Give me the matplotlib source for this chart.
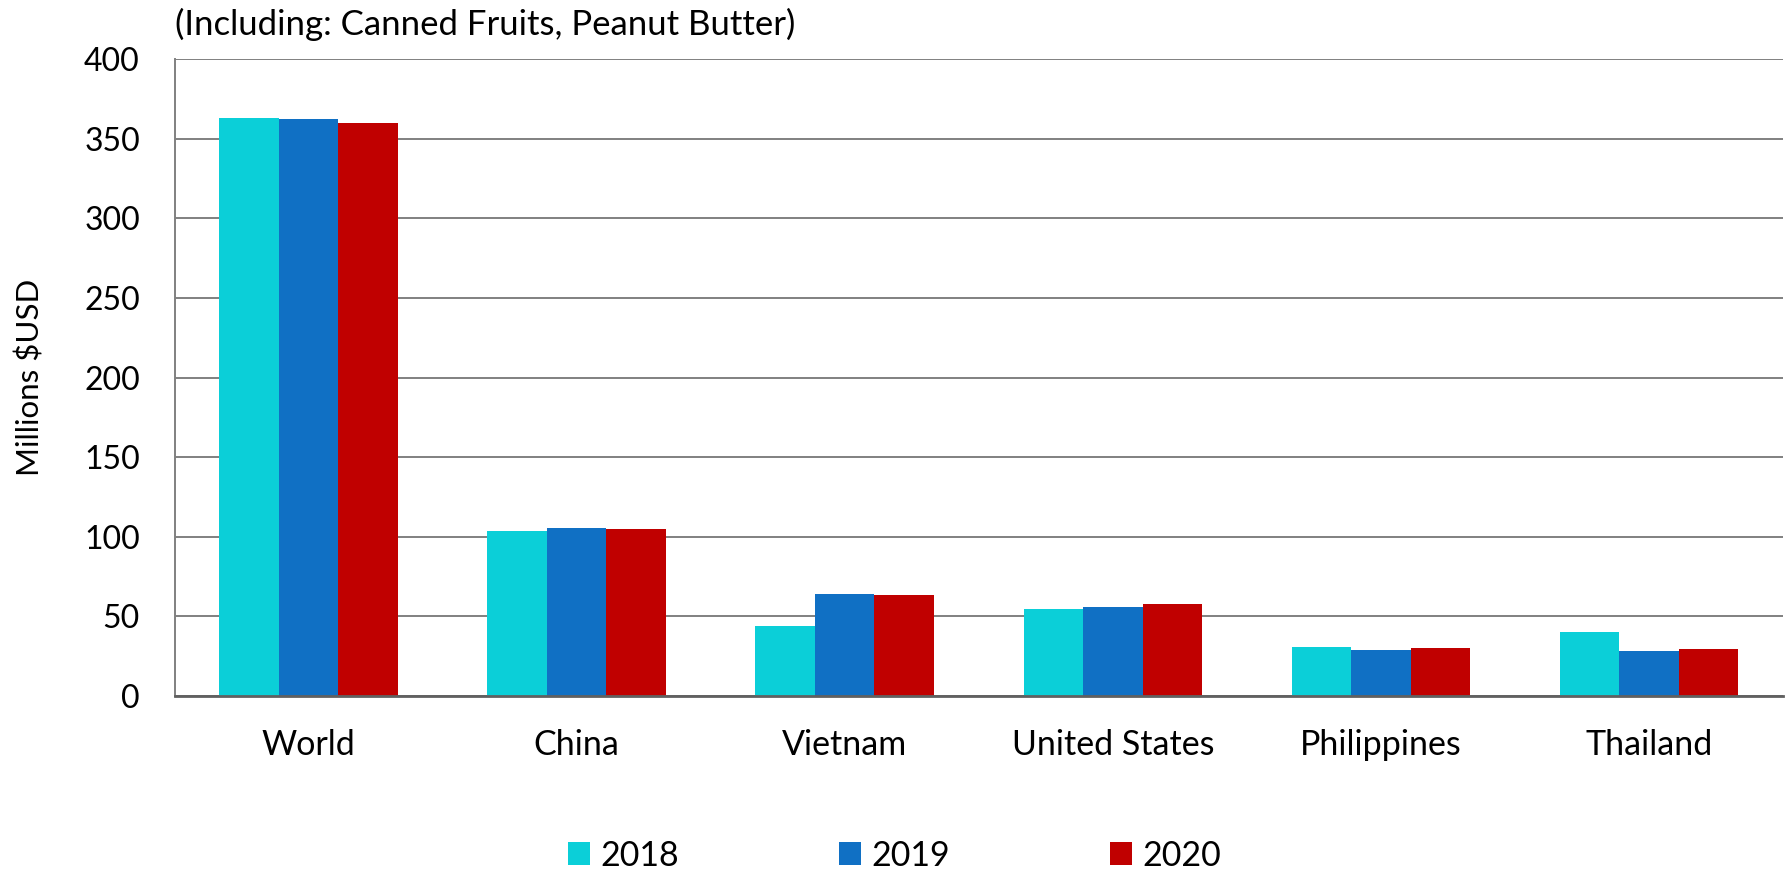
import matplotlib
matplotlib.use("Agg")
import matplotlib.pyplot as plt
import numpy as np

plt.rcParams['font.family'] = ['Lato', 'DejaVu Sans']

categories = ["World", "China", "Vietnam", "United States", "Philippines", "Thailand"]
years = ["2018", "2019", "2020"]
values_2018 = [362.8, 103.6, 44.1, 54.5, 31.1, 39.9]
values_2019 = [362.4, 105.8, 64.3, 56.0, 28.6, 28.0]
values_2020 = [360.1, 104.6, 63.2, 57.5, 30.3, 29.7]
colors = ["#0BCFD8", "#1070C4", "#C00000"]
yticks = [0, 50, 100, 150, 200, 250, 300, 350, 400]

fig = plt.figure(figsize=(17.89, 8.73), dpi=100)
ax = fig.add_axes([0.0976, 0.2027, 0.8990, 0.7297])

x = np.arange(len(categories))
width = 0.222
series = [values_2018, values_2019, values_2020]
for i, (vals, yr, c) in enumerate(zip(series, years, colors)):
    ax.bar(x + (i - 1) * width, vals, width, color=c, label=yr, zorder=3)

ax.set_xlim(-0.5, len(categories) - 0.5)
ax.set_ylim(0, 400)
ax.set_yticks(yticks)
ax.set_xticks(x)
ax.set_xticklabels(categories, fontsize=24.5)
ax.tick_params(axis='both', length=0)
ax.tick_params(axis='y', pad=25, labelsize=23)
ax.tick_params(axis='x', pad=24)

ax.grid(axis='y', color='#808080', linewidth=1.4, zorder=0)
for s in ['top', 'right']:
    ax.spines[s].set_visible(False)
ax.spines['left'].set_color('#808080')
ax.spines['left'].set_linewidth(1.4)
ax.spines['bottom'].set_color('#606060')
ax.spines['bottom'].set_linewidth(2)
ax.spines['bottom'].set_zorder(4)

ax.set_ylabel("Millions $USD", fontsize=22.5)
ax.yaxis.set_label_coords(-0.081, 0.5)

fig.text(0.0976, 0.972, "(Including: Canned Fruits, Peanut Butter)", fontsize=25,
         ha='left', va='center')

leg = fig.legend(loc='center', bbox_to_anchor=(0.5, 0.02), ncol=3, frameon=False,
                 fontsize=24.5, handlelength=0.65, handleheight=0.65, handletextpad=0.3,
                 columnspacing=4.7)

fig.savefig("out.png", dpi=100)
